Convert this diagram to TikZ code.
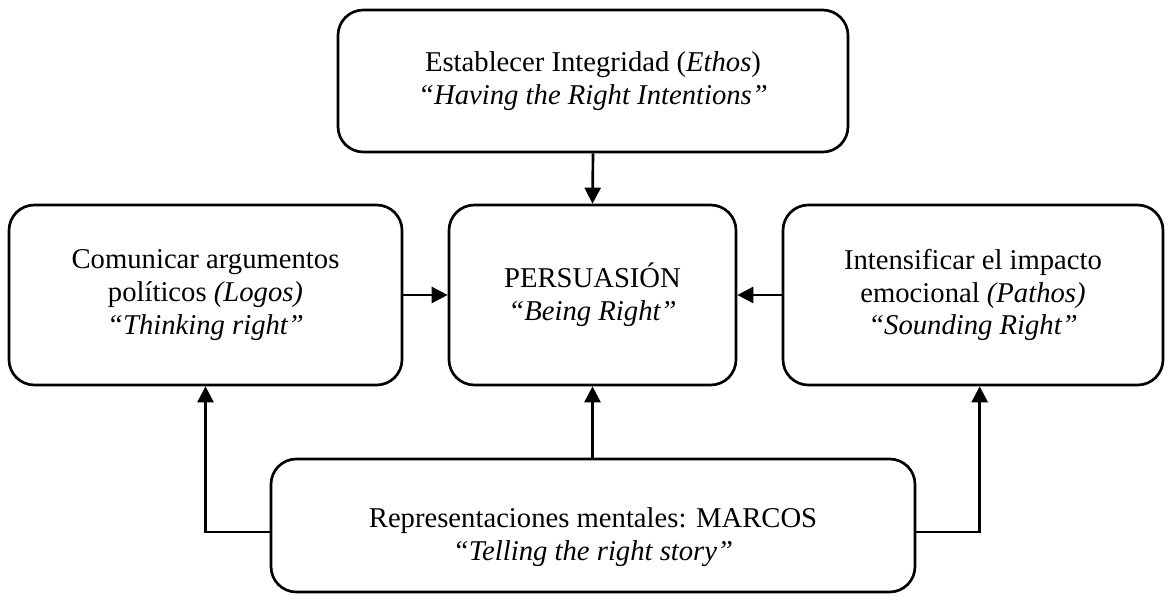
\documentclass[tikz,border=0pt]{standalone}
\usepackage{fontspec}
\setmainfont{Liberation Serif}
\usetikzlibrary{arrows.meta}
\begin{document}
\begin{tikzpicture}[x=0.75pt,y=-0.75pt,
  box/.style={draw=black,line width=2pt,rounded corners=19pt,inner sep=0pt,
    align=center,font=\fontsize{21.5}{24.6}\selectfont},
  txt/.style={inner sep=0pt,align=center,font=\fontsize{21.5}{25}\selectfont},
  arr/.style={line width=2pt,-{Triangle[length=12pt,width=12pt]}}]
\useasboundingbox (0,0) rectangle (1172,600);
\node[box,minimum width=382.5pt,minimum height=106.5pt] (top) at (593,81)
  {Establecer Integridad (\textit{Ethos})\\ \textit{“Having the Right Intentions”}};
\node[box,minimum width=294.75pt,minimum height=135pt] (left) at (205.5,295)
  {Comunicar argumentos\\ políticos \textit{(Logos)}\\ \textit{“Thinking right”}};
\node[box,minimum width=215.25pt,minimum height=135pt] (center) at (592.5,295)
  {PERSUASIÓN\\ \textit{“Being Right”}};
\node[box,minimum width=285pt,minimum height=135pt] (right) at (973,295)
  {Intensificar el impacto\\ emocional \textit{(Pathos)}\\ \textit{“Sounding Right”}};
\node[box,minimum width=483pt,minimum height=99.75pt] (bottom) at (593,525.5) {};
\node[txt] (bottomtext) at (593,537)
  {Representaciones mentales: MARCOS\\ \textit{“Telling the right story”}};
\draw[arr] (top.south) -- (center.north);
\draw[arr] (left.east |- center.west) -- (center.west);
\draw[arr] (right.west |- center.east) -- (center.east);
\draw[arr] (bottom.north -| center.south) -- (center.south);
\draw[arr] ([yshift=-4.9pt]bottom.west) -| (left.south);
\draw[arr] ([yshift=-4.9pt]bottom.east) -| ([xshift=5pt]right.south);
\end{tikzpicture}
\end{document}
